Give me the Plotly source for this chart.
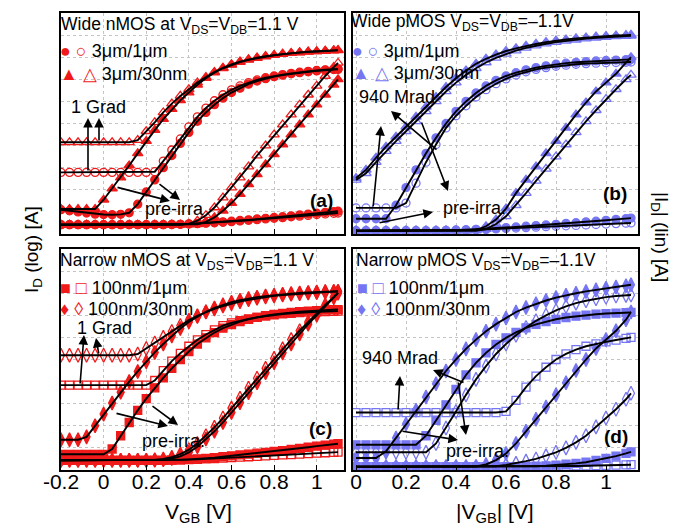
import plotly.graph_objects as go

FIG_W, FIG_H = 691, 531
RED = "#f01a1a"
BLUE = "#7676f2"
FONT = "Liberation Sans, Arial, sans-serif"

# ---------------- data (normalised current scale 0-100, no y ticks in the original) ----------------
X_N = [-0.2, -0.16, -0.12, -0.08, -0.04, 0, 0.04, 0.08, 0.12, 0.16, 0.2, 0.24, 0.28, 0.32, 0.36, 0.4,
       0.44, 0.48, 0.52, 0.56, 0.6, 0.64, 0.68, 0.72, 0.76, 0.8, 0.84, 0.88, 0.92, 0.96, 1.0, 1.04, 1.08, 1.1]
X_P = [0, 0.04, 0.08, 0.12, 0.16, 0.2, 0.24, 0.28, 0.32, 0.36, 0.4, 0.44, 0.48, 0.52, 0.56, 0.6,
       0.64, 0.68, 0.72, 0.76, 0.8, 0.84, 0.88, 0.92, 0.96, 1.0, 1.04, 1.08, 1.1]

TICKS_N = [-0.2, 0, 0.2, 0.4, 0.6, 0.8, 1.0]
TICKTEXT_N = ["-0.2", "0", "0.2", "0.4", "0.6", "0.8", "1"]
TICKS_P = [0, 0.2, 0.4, 0.6, 0.8, 1.0]
TICKTEXT_P = ["0", "0.2", "0.4", "0.6", "0.8", "1"]

# (a) Wide nMOS
A_PRE_1UM_LOG = [11, 10.5, 10, 9.5, 9, 8.8, 8.7, 8.9, 9.6, 13.5, 19, 24.5, 30, 35.5, 41, 46, 51, 55, 58.5,
                 61.5, 64, 66, 67.8, 69.2, 70.3, 71.2, 71.9, 72.5, 73, 73.4, 73.8, 74.1, 74.4, 74.5]
A_POST_1UM_LOG = [27.9] * 11 + [28.2, 33, 38, 43, 48.5, 53, 57, 60.3, 63, 65.2, 67, 68.5, 69.7, 70.7, 71.5,
                                72.1, 72.7, 73.2, 73.6, 74, 74.3, 74.6, 74.7]
A_PRE_30NM_LOG = [11.3] * 5 + [15.5, 20.5, 25.5, 31, 36.5, 42, 47, 52, 56.5, 60.5, 64, 67.5, 70.5, 73, 75,
                               76.5, 77.8, 78.8, 79.6, 80.3, 80.9, 81.4, 81.8, 82.1, 82.4, 82.6, 82.8, 83, 83.1]
A_POST_30NM_LOG = [41.5] * 9 + [42.5, 46.5, 50.5, 55, 59, 62.5, 65.5, 68.5, 71, 73.3, 75.2, 76.8, 78, 79,
                                79.8, 80.5, 81, 81.5, 81.9, 82.2, 82.5, 82.7, 82.9, 83.1, 83.2]
A_PRE_30NM_LIN = [4.2] * 16 + [4.4, 5.5, 7.5, 10.5, 14, 18, 22.5, 27, 31.5, 36, 40.5, 45, 49.5, 54, 58.5,
                               63, 67.5, 70]
A_POST_30NM_LIN = [4.2] * 15 + [4.6, 6, 8.5, 12, 16.5, 21, 25.5, 30.5, 35.5, 40, 45, 49.5, 54, 58.5, 63,
                                67, 71.5, 75.5, 77.4]
A_PRE_1UM_LIN = [4.2] * 13 + [4.3, 4.4, 4.6, 4.8, 5, 5.2, 5.5, 5.8, 6.1, 6.4, 6.8, 7.1, 7.5, 7.8, 8.2, 8.6,
                              9, 9.4, 9.8, 10.1, 10.3]
A_POST_1UM_LIN = [4.2] * 13 + [4.3, 4.4, 4.5, 4.7, 4.9, 5.1, 5.3, 5.6, 5.9, 6.2, 6.5, 6.8, 7.1, 7.4, 7.8,
                               8.1, 8.4, 8.8, 9.1, 9.4, 9.5]

# (b) Wide pMOS
B_PRE_30NM_LOG = [25.3, 29, 34.5, 39.5, 44, 48.5, 53, 57.5, 62, 66.5, 70.5, 74, 77, 79.3, 81.2, 82.8, 84,
                  85.1, 86, 86.8, 87.5, 88, 88.5, 88.9, 89.3, 89.6, 89.8, 90, 90.1]
B_POST_30NM_LOG = [24.5, 27.5, 32.5, 37.5, 42, 46.5, 51, 55.5, 60, 64.5, 68.5, 72, 75, 77.6, 79.7, 81.5,
                   83, 84.2, 85.2, 86.1, 86.8, 87.4, 87.9, 88.4, 88.8, 89.1, 89.4, 89.6, 89.7]
B_PRE_1UM_LOG = [6.9] * 4 + [13, 21, 29, 36.5, 43.5, 50, 55.5, 60, 63.8, 67, 69.5, 71.5, 73, 74.3, 75.3,
                             76.1, 76.8, 77.3, 77.7, 78, 78.3, 78.5, 78.7, 78.9, 79]
B_POST_1UM_LOG = [11.8] * 5 + [14, 23, 32.5, 40.5, 48, 53.5, 58, 62, 65.3, 68, 70.2, 72, 73.4, 74.5, 75.3,
                               75.9, 76.4, 76.8, 77.1, 77.3, 77.5, 77.6, 77.7, 77.8]
B_PRE_30NM_LIN = [1.5] * 12 + [1.8, 3.5, 6.5, 11.5, 18.5, 24.5, 30.5, 36.5, 42, 48, 54, 59.5, 64.5, 68.5,
                               72.5, 77.5, 80]
B_POST_30NM_LIN = [1.5] * 13 + [2.2, 4.5, 8, 13, 18.5, 24, 29.5, 35, 40.5, 46, 51, 56, 61, 65.5, 70, 72]
B_PRE_1UM_LIN = [1.5] * 9 + [1.6, 1.7, 1.9, 2.1, 2.3, 2.6, 2.9, 3.2, 3.5, 3.8, 4.1, 4.4, 4.8, 5.1, 5.5,
                             5.8, 6.2, 6.6, 7, 7.2]
B_POST_1UM_LIN = [1.5] * 9 + [1.6, 1.7, 1.8, 1.9, 2.1, 2.3, 2.5, 2.7, 2.9, 3.1, 3.3, 3.5, 3.7, 3.9, 4.1,
                              4.3, 4.5, 4.7, 4.9, 5]

# (c) Narrow nMOS
C_PRE_1UM_LOG = [7.1] * 6 + [9.5, 15.5, 21.5, 27, 32.3, 37.2, 41.7, 46, 50, 53.6, 57, 59.8, 62.2, 64.2,
                             65.8, 67.1, 68.2, 69.1, 69.8, 70.4, 70.9, 71.3, 71.6, 71.9, 72.1, 72.3, 72.5, 72.6]
C_POST_1UM_LOG = [38.4] * 11 + [40.5, 45, 49.3, 52.8, 56, 58.9, 61.3, 63.4, 65.3, 66.6, 67.6, 68.4, 69.1,
                                69.7, 70.2, 70.6, 70.9, 71.2, 71.4, 71.6, 71.7, 71.8, 71.9]
C_PRE_30NM_LOG = [13.7] * 3 + [15, 20, 25.3, 30.3, 35.2, 40, 44.6, 49, 53.2, 57, 60.7, 64, 67, 69.5, 71.6,
                               73.3, 74.7, 75.9, 76.8, 77.6, 78.2, 78.7, 79.1, 79.5, 79.8, 80.1, 80.3, 80.5,
                               80.7, 80.8, 80.9]
C_POST_30NM_LOG = [51.9] * 9 + [52.5, 55, 57.5, 60, 62.7, 65.4, 67.8, 69.8, 71.5, 72.9, 74.2, 75.3, 76.2,
                                77, 77.7, 78.3, 78.8, 79.2, 79.5, 79.8, 80.1, 80.3, 80.5, 80.7, 80.8]
C_PRE_30NM_LIN = [4.4] * 12 + [4.6, 5.2, 6.2, 8, 10.5, 14, 17.5, 21.5, 26, 30.5, 35, 39.5, 44, 48.5, 53,
                               57, 61.5, 66, 70, 74, 78, 80]
C_POST_30NM_LIN = [4.4] * 11 + [4.6, 5, 5.8, 7.2, 9.2, 12, 15.5, 19.3, 23.5, 28, 32.5, 37, 41.5, 46, 50.5,
                                54.8, 59, 63, 67, 71, 74.7, 78.3, 80.3]
C_PRE_1UM_LIN = [4.4] * 13 + [4.5, 4.6, 4.8, 5, 5.3, 5.6, 6, 6.4, 6.8, 7.2, 7.6, 8, 8.4, 8.8, 9.3, 9.8,
                              10.3, 10.8, 11.3, 11.7, 11.9]
C_POST_1UM_LIN = [4.4] * 13 + [4.5, 4.6, 4.7, 4.8, 5, 5.2, 5.4, 5.6, 5.8, 6, 6.2, 6.4, 6.6, 6.8, 7, 7.2,
                               7.4, 7.6, 7.8, 8, 8.1]

# (d) Narrow pMOS
D_PRE_30NM_LOG = [5.4, 5.4, 5.4, 8.5, 14.5, 20.8, 27, 33, 39, 44.8, 50, 54.8, 59, 62.8, 66, 68.8, 71.5,
                  73.5, 75.2, 76.7, 78, 79.1, 80, 80.8, 81.5, 82.2, 82.8, 83.4, 83.8]
D_POST_30NM_LOG = [8] * 8 + [12, 19, 26.5, 34, 41, 47, 52.5, 57, 61, 64.5, 67.5, 70, 72.2, 74, 75.5, 76.6,
                             77.5, 78.2, 78.7, 79, 79.2]
D_PRE_1UM_LOG = [11.4] * 7 + [15.5, 22.5, 29.5, 36.5, 43, 48.5, 53, 56.8, 59.8, 62.3, 64.3, 65.9, 67.2,
                              68.2, 69, 69.6, 70.1, 70.5, 70.8, 71, 71.2, 71.3]
D_POST_1UM_LOG = [26] * 15 + [26.5, 31.5, 37.5, 42.5, 46.5, 50, 52.5, 54.5, 56, 57.1, 58, 58.8, 59.6, 60]
D_PRE_30NM_LIN = [1.5] * 12 + [1.6, 2.5, 4.5, 7.5, 12, 17.5, 23, 28.5, 34, 39.5, 45, 50, 55, 59, 63, 68,
                               71.5]
D_POST_30NM_LIN = [1.5] * 14 + [1.7, 2.3, 3, 4, 5, 6.4, 8, 10, 12.5, 15.5, 19.5, 23.5, 27.5, 32, 34.7]
D_PRE_1UM_LIN = [1.5] * 17 + [1.6, 1.7, 1.9, 2.2, 2.6, 3, 3.5, 4.4, 5.3, 6.3, 7.5, 8.2]
D_POST_1UM_LIN = [1.5] * 20 + [1.6, 1.7, 1.8, 1.9, 2, 2.1, 2.2, 2.3, 2.4]

# ---------------- layout helpers ----------------
def px(x):
    return x / FIG_W


def py(y):
    return 1 - y / FIG_H


# panel boxes in pixels: left, top, right, bottom
BOX = {1: (53, 5, 336, 226), 2: (345, 5, 630, 226), 3: (53, 241, 336, 462), 4: (345, 241, 630, 462)}
XRANGE = {1: [-0.2, 1.128], 2: [-0.012, 1.128], 3: [-0.2, 1.128], 4: [-0.012, 1.128]}

fig = go.Figure()

SYM = {
    "fc": ("circle", 8), "oc": ("circle-open", 8),
    "ft": ("triangle-up", 9), "ot": ("triangle-up-open", 9),
    "fs": ("square", 8), "os": ("square-open", 8),
    "fd": ("diamond-tall", 10), "od": ("diamond-tall-open", 10),
}

PANELS = {
    1: (X_N, RED, [(A_POST_30NM_LOG, "ot"), (A_POST_1UM_LOG, "oc"), (A_PRE_30NM_LOG, "ft"),
                   (A_PRE_1UM_LOG, "fc"), (A_POST_30NM_LIN, "ot"), (A_PRE_30NM_LIN, "ft"),
                   (A_POST_1UM_LIN, "oc"), (A_PRE_1UM_LIN, "fc")]),
    2: (X_P, BLUE, [(B_POST_30NM_LOG, "ot"), (B_PRE_30NM_LOG, "ft"), (B_POST_1UM_LOG, "oc"),
                    (B_PRE_1UM_LOG, "fc"), (B_POST_30NM_LIN, "ot"), (B_PRE_30NM_LIN, "ft"),
                    (B_POST_1UM_LIN, "oc"), (B_PRE_1UM_LIN, "fc")]),
    3: (X_N, RED, [(C_POST_30NM_LOG, "od"), (C_POST_1UM_LOG, "os"), (C_PRE_30NM_LOG, "fd"),
                   (C_PRE_1UM_LOG, "fs"), (C_POST_30NM_LIN, "od"), (C_PRE_30NM_LIN, "fd"),
                   (C_POST_1UM_LIN, "os"), (C_PRE_1UM_LIN, "fs")]),
    4: (X_P, BLUE, [(D_POST_1UM_LOG, "os"), (D_POST_30NM_LOG, "od"), (D_PRE_1UM_LOG, "fs"),
                    (D_PRE_30NM_LOG, "fd"), (D_POST_30NM_LIN, "od"), (D_POST_1UM_LIN, "os"),
                    (D_PRE_1UM_LIN, "fs"), (D_PRE_30NM_LIN, "fd")]),
}

for n, (xs, col, curves) in PANELS.items():
    xa = "x" if n == 1 else f"x{n}"
    ya = "y" if n == 1 else f"y{n}"
    for ys, key in curves:
        sym, size = SYM[key]
        fig.add_trace(go.Scatter(
            x=xs, y=ys, mode="markers", xaxis=xa, yaxis=ya, showlegend=False, hoverinfo="skip",
            marker=dict(symbol=sym, size=size, color=col, line=dict(color=col, width=1.3))))
for n, (xs, col, curves) in PANELS.items():
    xa = "x" if n == 1 else f"x{n}"
    ya = "y" if n == 1 else f"y{n}"
    for ys, key in curves:
        fig.add_trace(go.Scatter(
            x=xs, y=ys, mode="lines", xaxis=xa, yaxis=ya, showlegend=False, hoverinfo="skip",
            line=dict(color="black", width=1.9)))

layout = dict(width=FIG_W, height=FIG_H, margin=dict(l=0, r=0, t=0, b=0, autoexpand=False),
              paper_bgcolor="white", plot_bgcolor="white", font=dict(family=FONT, color="black"))

for n, (l, t, r, b) in BOX.items():
    sfx = "" if n == 1 else str(n)
    neg = n in (1, 3)
    layout[f"xaxis{sfx}"] = dict(
        domain=[px(l), px(r)], range=XRANGE[n], anchor=f"y{sfx}",
        tickvals=TICKS_N if neg else TICKS_P, ticktext=TICKTEXT_N if neg else TICKTEXT_P,
        showticklabels=n in (3, 4), tickfont=dict(size=21, family=FONT, color="black"),
        ticklabelstandoff=-8,
        ticks="inside", ticklen=5, tickwidth=1.2, tickcolor="black",
        showgrid=True, gridcolor="#c4c4c4", griddash="dot", gridwidth=1,
        showline=True, mirror=True, linecolor="black", linewidth=1.6, zeroline=False)
    layout[f"yaxis{sfx}"] = dict(
        domain=[py(b), py(t)], range=[0, 100], anchor=f"x{sfx}", dtick=10,
        showticklabels=False, ticks="",
        showgrid=True, gridcolor="#c4c4c4", griddash="dot", gridwidth=1,
        showline=True, mirror=True, linecolor="black", linewidth=1.6, zeroline=False)

ann = []


def text(x, y, s, size=18, xanchor="center", angle=0):
    ann.append(dict(x=px(x), y=py(y), xref="paper", yref="paper", text=s, showarrow=False,
                    xanchor=xanchor, yanchor="middle", textangle=angle, borderpad=0,
                    font=dict(size=size, family=FONT, color="black")))


def arrow(tail, head):
    ann.append(dict(x=px(head[0]), y=py(head[1]), xref="paper", yref="paper",
                    ax=tail[0] - head[0], ay=tail[1] - head[1], axref="pixel", ayref="pixel",
                    text="", showarrow=True, arrowhead=2, arrowsize=1.2, arrowwidth=1.6,
                    arrowcolor="black", standoff=0, startstandoff=0))


def legend_row(x, y, col, syms, label):
    text(x, y, f"<span style='color:{col}'>{syms}</span> {label}", 18, "left")


# panel (a)
text(52, 17, "Wide nMOS at V<sub>DS</sub>=V<sub>DB</sub>=1.1 V", 17.5, "left")
legend_row(51, 43, RED, "● ○", "3μm/1μm")
legend_row(51, 66, RED, "▲ △", "3μm/30nm")
text(90, 99, "1 Grad")
arrow((80, 164), (80, 110))
arrow((91, 134), (91, 110))
text(166, 201, "pre-irra")
arrow((108, 179), (162, 193))
arrow((150, 175), (172, 192))
text(313, 192, "<b>(a)</b>", 19)

# panel (b)
text(342, 15, "Wide pMOS V<sub>DS</sub>=V<sub>DB</sub>=–1.1V", 17.5, "left")
legend_row(343, 43, BLUE, "● ○", "3μm/1μm")
legend_row(343, 65, BLUE, "▲ △", "3μm/30nm")
text(389, 89, "940 Mrad")
arrow((365, 200), (373, 118))
arrow((430, 143), (383, 103))
text(466, 200, "pre-irra.")
arrow((370, 215), (425, 204))
arrow((413, 113), (440, 183))
text(607, 185, "<b>(b)</b>", 19)

# panel (c)
text(51, 253, "Narrow nMOS at V<sub>DS</sub>=V<sub>DB</sub>=1.1 V", 17.5, "left")
legend_row(51, 280, RED, "■ □", "100nm/1μm")
legend_row(51, 301, RED, "♦ ◊", "100nm/30nm")
text(96, 320, "1 Grad")
arrow((72, 377), (76, 327))
arrow((91, 347), (88, 330))
text(165, 433, "pre-irra.")
arrow((107, 405), (160, 418))
arrow((143, 397), (170, 417))
text(312, 420, "<b>(c)</b>", 19)

# panel (d)
text(347, 253, "Narrow pMOS V<sub>DS</sub>=V<sub>DB</sub>=–1.1V", 17.5, "left")
legend_row(348, 280, BLUE, "■ □", "100nm/1μm")
legend_row(348, 301, BLUE, "♦ ◊", "100nm/30nm")
text(392, 350, "940 Mrad")
arrow((390, 403), (392, 368))
arrow((457, 375), (425, 362))
text(469, 443, "pre-irra.")
arrow((393, 423), (450, 432))
arrow((450, 373), (458, 427))
text(608, 428, "<b>(d)</b>", 19)

# axis titles
text(25, 242, "I<sub>D</sub> (log) [A]", 19, angle=-90)
text(652, 229, "|I<sub>D</sub>| (lin) [A]", 19, angle=90)
text(190, 505, "V<sub>GB</sub> [V]", 21)
text(487, 505, "|V<sub>GB</sub>| [V]", 21)

layout["annotations"] = ann
fig.update_layout(**layout)
fig.write_html("out.html")
